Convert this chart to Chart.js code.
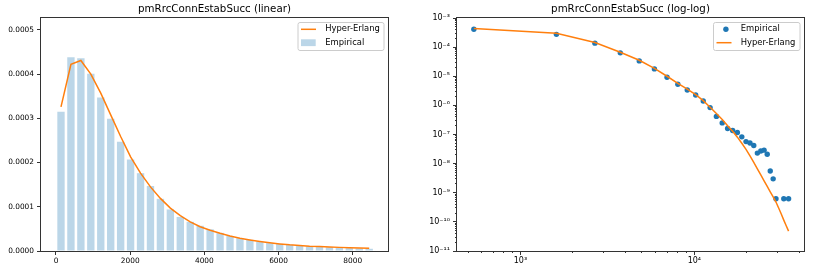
<!DOCTYPE html>
<html>
<head>
<meta charset="utf-8">
<script src="https://cdn.jsdelivr.net/npm/chart.js@4"></script>
<style>
  html, body { margin: 0; padding: 0; background: #fff; }
  #wrap { position: relative; width: 814px; height: 273px; }
  .panel { position: absolute; top: 0; height: 273px; }
</style>
</head>
<body>
<div id="wrap">
  <div class="panel" style="left:0;width:400px"><canvas id="linChart" width="400" height="273"></canvas></div>
  <div class="panel" style="left:400px;width:414px"><canvas id="logChart" width="414" height="273"></canvas></div>
</div>
<script>
var FONT = "'DejaVu Sans', sans-serif";
var BLUE = "#1f77b4";
var ORANGE = "#ff7f0e";

// ---- linear panel: histogram of pmRrcConnEstabSucc ----
var binCenters = [135, 403, 671, 939, 1207, 1475, 1743, 2011, 2279, 2547, 2815, 3083, 3351, 3619, 3887, 4155,
  4423, 4691, 4959, 5227, 5495, 5763, 6031, 6299, 6567, 6835, 7103, 7371, 7639, 7907, 8175, 8443];
var empiricalDensity = [0.000315, 0.000438, 0.000436, 0.000401, 0.000347, 0.000299, 0.000247, 0.000207,
  0.000176, 0.000147, 0.000118, 0.000094, 0.000077, 0.000066, 0.000057, 0.000049, 0.000041, 0.000034,
  0.000029, 0.000025, 0.000021, 0.000018, 0.000016, 0.000014, 0.000012, 0.0000105, 0.0000095, 0.0000085,
  0.0000075, 0.0000065, 0.0000058, 0.000005];
var hyperErlangLin = [0.000326, 0.000422, 0.000431, 0.000400, 0.000357, 0.000308, 0.000259, 0.000213,
  0.000176, 0.000145, 0.000119, 0.000097, 0.000080, 0.000066, 0.000055, 0.000047, 0.000040, 0.000034,
  0.000029, 0.000025, 0.0000215, 0.0000185, 0.000016, 0.000014, 0.0000125, 0.000011, 0.0000100, 0.0000090,
  0.0000082, 0.0000075, 0.0000068, 0.0000062];
var linXTicks = [0, 2000, 4000, 6000, 8000];
var linYTicks = [0, 0.0001, 0.0002, 0.0003, 0.0004, 0.0005];
var linYTickLabels = ["0.0000", "0.0001", "0.0002", "0.0003", "0.0004", "0.0005"];

// ---- log-log panel ----
var logBinCenters = [540, 1611, 2682, 3753, 4824, 5895, 6966, 8037, 9108, 10179, 11250, 12321, 13392, 14463,
  15534, 16605, 17676, 18747, 19818, 20889, 21960, 23031, 24102, 25173, 26244, 27315, 28386, 29457, 30528,
  31599, 32670, 33741, 34812];
var hyperErlangLog = [4.4e-4, 3.0e-4, 1.44e-4, 6.7e-5, 3.55e-5, 1.86e-5, 1.0e-5, 5.74e-6, 3.59e-6, 2.35e-6,
  1.46e-6, 8.6e-7, 5.3e-7, 3.3e-7, 2.0e-7, 1.3e-7, 8.1e-8, 5.0e-8, 3.1e-8, 1.86e-8, 1.11e-8, 6.6e-9, 4.1e-9,
  2.55e-9, 1.65e-9, 1.07e-9, 7.2e-10, 4.8e-10, 3.0e-10, 1.86e-10, 1.15e-10, 7.4e-11, 4.8e-11];
var empiricalX = [540, 1611, 2682, 3753, 4824, 5895, 6966, 8037, 9108, 10179, 11250, 12321, 13392, 14463,
  15534, 16605, 17676, 18747, 19818, 20889, 21960, 23031, 24102, 25173, 26244, 27315, 28386, 29457, 32670, 34812];
var empiricalY = [4.1e-4, 2.75e-4, 1.37e-4, 6.35e-5, 3.37e-5, 1.79e-5, 9.25e-6, 5.3e-6, 3.37e-6, 2.26e-6,
  1.41e-6, 8.4e-7, 4.18e-7, 2.5e-7, 1.61e-7, 1.37e-7, 1.17e-7, 8.3e-8, 5.7e-8, 5.1e-8, 4.2e-8, 2.3e-8, 2.7e-8,
  2.9e-8, 2.1e-8, 5.6e-9, 3.0e-9, 6.2e-10, 6.2e-10, 6.2e-10];
var logXTicks = [1e3, 1e4];
var logXTickLabels = ["10\u00b3", "10\u2074"];
var logYTicks = [1e-11, 1e-10, 1e-9, 1e-8, 1e-7, 1e-6, 1e-5, 1e-4, 1e-3];
var logYTickLabels = ["10\u207b\u00b9\u00b9", "10\u207b\u00b9\u2070", "10\u207b\u2079", "10\u207b\u2078",
  "10\u207b\u2077", "10\u207b\u2076", "10\u207b\u2075", "10\u207b\u2074", "10\u207b\u00b3"];

function pairs(xs, ys) {
  return xs.map(function (x, i) { return { x: x, y: ys[i] }; });
}

// majors + 2..9 minors between them (axis decoration only)
function logTicks(majors, lo, hi) {
  var out = [];
  majors.forEach(function (m) { out.push({ value: m, major: true }); });
  for (var e = -12; e <= 5; e++) {
    for (var k = 2; k <= 9; k++) {
      var v = k * Math.pow(10, e);
      if (v > lo && v < hi) out.push({ value: v, major: false });
    }
  }
  return out.sort(function (a, b) { return a.value - b.value; });
}

function labelFor(vals, labels, v) {
  for (var i = 0; i < vals.length; i++) {
    if (Math.abs(Math.log10(vals[i]) - Math.log10(v)) < 1e-6) return labels[i];
  }
  return "";
}

var tickFont = { family: FONT, size: 7.4 };
var logTickFont = { family: FONT, size: 8 };
var titleOpts = function (text) {
  return {
    display: true, text: text, fullSize: false, color: "#000",
    font: { family: FONT, size: 10.25, weight: "normal", lineHeight: 1.2 },
    padding: { top: 3.5, bottom: 2.2 }
  };
};

// spines on all four sides + matplotlib-like legend box
var frameAndLegend = {
  id: "frameAndLegend",
  afterDraw: function (chart, args, opts) {
    var ctx = chart.ctx, a = chart.chartArea;
    ctx.save();
    ctx.strokeStyle = "#333";
    ctx.lineWidth = 1;
    ctx.strokeRect(Math.round(a.left) - 0.5, Math.round(a.top) - 0.5,
      Math.round(a.right - a.left) + 1, Math.round(a.bottom - a.top) + 1);

    var bx = a.right - 4 - opts.width, by = a.top + 4.5, w = opts.width, h = 28, r = 2;
    ctx.beginPath();
    ctx.moveTo(bx + r, by);
    ctx.arcTo(bx + w, by, bx + w, by + h, r);
    ctx.arcTo(bx + w, by + h, bx, by + h, r);
    ctx.arcTo(bx, by + h, bx, by, r);
    ctx.arcTo(bx, by, bx + w, by, r);
    ctx.closePath();
    ctx.fillStyle = "rgba(255,255,255,0.8)";
    ctx.fill();
    ctx.strokeStyle = "#cccccc";
    ctx.stroke();

    opts.items.forEach(function (it, i) {
      var ds = chart.data.datasets[it.ds];
      var cy = by + (i === 0 ? 6.8 : 20.2);
      if (it.kind === "line") {
        ctx.beginPath();
        ctx.moveTo(bx + 3, cy);
        ctx.lineTo(bx + 18, cy);
        ctx.strokeStyle = ds.borderColor;
        ctx.lineWidth = 1.5;
        ctx.stroke();
      } else if (it.kind === "patch") {
        ctx.fillStyle = ds.backgroundColor;
        ctx.fillRect(bx + 3, cy - 3.4, 14.7, 6.8);
      } else {
        ctx.beginPath();
        ctx.arc(bx + 12.4, cy, 2.7, 0, Math.PI * 2);
        ctx.fillStyle = ds.backgroundColor;
        ctx.fill();
      }
      ctx.fillStyle = "#000";
      ctx.font = "8.4px " + FONT;
      ctx.textBaseline = "middle";
      ctx.textAlign = "left";
      ctx.fillText(ds.label, bx + 27.3, cy);
    });
    ctx.restore();
  }
};

function axisGrid(pos) {
  return {
    drawOnChartArea: false, tickLength: 4, color: "#333", offset: false,
    tickBorderDash: function (c) {
      if (!c.tick || c.tick.major !== false) return [];
      return pos === "left" ? [0, 2, 2, 10] : [2, 10];
    }
  };
}

new Chart(document.getElementById("linChart"), {
  type: "bar",
  data: {
    datasets: [
      {
        type: "line", label: "Hyper-Erlang", data: pairs(binCenters, hyperErlangLin),
        borderColor: ORANGE, borderWidth: 1.5, pointRadius: 0, fill: false, tension: 0, order: 0
      },
      {
        type: "bar", label: "Empirical", data: pairs(binCenters, empiricalDensity),
        backgroundColor: "rgba(31,119,180,0.3)", borderWidth: 0,
        barPercentage: 0.74, categoryPercentage: 1, order: 1
      }
    ]
  },
  options: {
    responsive: false, animation: false, devicePixelRatio: 1,
    layout: { padding: { left: 0, right: 12, top: 0, bottom: 0 } },
    plugins: {
      legend: { display: false }, tooltip: { enabled: false },
      title: titleOpts("pmRrcConnEstabSucc (linear)"),
      frameAndLegend: { width: 86, items: [{ ds: 0, kind: "line" }, { ds: 1, kind: "patch" }] }
    },
    scales: {
      x: {
        type: "linear", min: -404, max: 8950, offset: false,
        afterBuildTicks: function (s) { s.ticks = linXTicks.map(function (v) { return { value: v }; }); },
        ticks: { font: tickFont, color: "#000", padding: 1.5, maxRotation: 0, autoSkip: false,
          callback: function (v) { return String(v); } },
        grid: axisGrid("bottom"), border: { display: false },
        afterFit: function (s) { s.height = 22; }
      },
      y: {
        min: 0, max: 0.000527,
        afterBuildTicks: function (s) { s.ticks = linYTicks.map(function (v) { return { value: v }; }); },
        ticks: { font: tickFont, color: "#000", padding: 3, autoSkip: false,
          callback: function (v, i) { return linYTickLabels[i]; } },
        grid: axisGrid("left"), border: { display: false },
        afterFit: function (s) { s.width = 41; }
      }
    }
  },
  plugins: [frameAndLegend]
});

new Chart(document.getElementById("logChart"), {
  type: "scatter",
  data: {
    datasets: [
      {
        label: "Empirical", data: pairs(empiricalX, empiricalY),
        backgroundColor: BLUE, borderWidth: 0, pointRadius: 2.7, showLine: false, order: 1
      },
      {
        type: "line", label: "Hyper-Erlang", data: pairs(logBinCenters, hyperErlangLog),
        borderColor: ORANGE, borderWidth: 1.5, pointRadius: 0, showLine: true, fill: false, tension: 0, order: 0
      }
    ]
  },
  options: {
    responsive: false, animation: false, devicePixelRatio: 1,
    layout: { padding: { left: 0, right: 10, top: 0, bottom: 0 } },
    plugins: {
      legend: { display: false }, tooltip: { enabled: false },
      title: titleOpts("pmRrcConnEstabSucc (log-log)"),
      frameAndLegend: { width: 86.5, items: [{ ds: 0, kind: "dot" }, { ds: 1, kind: "line" }] }
    },
    scales: {
      x: {
        type: "logarithmic", min: 432, max: 42700,
        afterBuildTicks: function (s) { s.ticks = logTicks(logXTicks, 432, 42700); },
        ticks: { font: logTickFont, color: "#000", padding: 1.5, maxRotation: 0, autoSkip: false,
          callback: function (v) { return labelFor(logXTicks, logXTickLabels, v); } },
        grid: axisGrid("bottom"), border: { display: false },
        afterFit: function (s) { s.height = 22; }
      },
      y: {
        type: "logarithmic", min: 1e-11, max: 1e-3,
        afterBuildTicks: function (s) { s.ticks = logTicks(logYTicks, 1e-11, 1e-3); },
        ticks: { font: logTickFont, color: "#000", padding: 3, autoSkip: false,
          callback: function (v) { return labelFor(logYTicks, logYTickLabels, v); } },
        grid: axisGrid("left"), border: { display: false },
        afterFit: function (s) { s.width = 57; }
      }
    }
  },
  plugins: [frameAndLegend]
});
</script>
</body>
</html>
